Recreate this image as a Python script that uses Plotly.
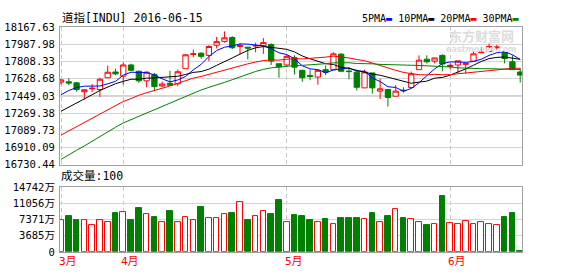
import plotly.graph_objects as go

# ---------------- data ----------------
bar_index = list(range(60))

open_ = [17593, 17596, 17586, 17493, 17523, 17516, 17639, 17699, 17656, 17772,
         17706, 17606, 17673, 17553, 17581, 17576, 17733, 17882, 17895, 17872,
         17978, 18018, 18058, 17965, 17958, 17969, 17972, 17985, 17785, 17772,
         17848, 17716, 17663, 17646, 17723, 17723, 17885, 17709, 17696, 17533,
         17689, 17499, 17516, 17446, 17509, 17536, 17723, 17832, 17812, 17872,
         17756, 17772, 17779, 17812, 17899, 17912, 17952, 17905, 17805, 17699]
high = [17626, 17633, 17593, 17519, 17573, 17639, 17766, 17733, 17798, 17785,
        17713, 17706, 17689, 17599, 17711, 17723, 17885, 17932, 17905, 17978,
        18065, 18122, 18072, 17998, 17958, 18005, 18052, 17998, 17785, 17882,
        17872, 17723, 17723, 17723, 17766, 17905, 17895, 17749, 17706, 17723,
        17689, 17629, 17516, 17563, 17539, 17703, 17872, 17872, 17845, 17882,
        17788, 17815, 17788, 17912, 17962, 17995, 17982, 17912, 17872, 17739]
low = [17566, 17559, 17493, 17413, 17489, 17439, 17639, 17666, 17566, 17706,
       17586, 17539, 17499, 17539, 17556, 17551, 17733, 17852, 17838, 17812,
       17945, 18005, 17938, 17882, 17830, 17905, 17888, 17772, 17639, 17756,
       17673, 17596, 17613, 17566, 17666, 17723, 17706, 17623, 17506, 17533,
       17473, 17416, 17339, 17446, 17483, 17526, 17723, 17788, 17788, 17706,
       17726, 17689, 17683, 17812, 17898, 17905, 17932, 17788, 17723, 17589]
close = [17616, 17583, 17516, 17513, 17529, 17623, 17696, 17679, 17772, 17716,
         17606, 17696, 17546, 17573, 17561, 17701, 17878, 17888, 17862, 17965,
         18015, 18055, 17952, 17975, 17948, 17975, 18005, 17812, 17753, 17862,
         17749, 17639, 17653, 17716, 17696, 17888, 17706, 17703, 17539, 17699,
         17533, 17523, 17433, 17499, 17503, 17679, 17822, 17805, 17845, 17782,
         17768, 17815, 17785, 17888, 17905, 17965, 17958, 17838, 17723, 17666]

volume = [7299, 8239, 7299, 7299, 5998, 7299, 6866, 8889, 9034, 7299,
          9973, 8600, 7805, 6866, 9323, 6866, 7950, 7299, 10190, 7733,
          7733, 8600, 8889, 11419, 7155, 8167, 9251, 8672, 11708, 6866,
          8456, 8239, 7155, 6866, 7372, 6432, 7588, 7588, 7588, 7516,
          8889, 6866, 8239, 9684, 7588, 7516, 6866, 6071, 6215, 12792,
          6649, 6432, 7082, 6215, 6866, 6215, 5998, 7805, 8889, 217]

ma5 = [17461, 17506, 17536, 17551, 17551, 17553, 17575, 17601, 17666, 17696,
       17694, 17694, 17667, 17627, 17596, 17615, 17652, 17721, 17778, 17859,
       17922, 17957, 17970, 17992, 17989, 17981, 17971, 17943, 17898, 17881,
       17836, 17763, 17731, 17724, 17691, 17719, 17732, 17742, 17707, 17707,
       17636, 17599, 17545, 17537, 17498, 17527, 17587, 17662, 17731, 17786,
       17804, 17803, 17799, 17808, 17832, 17872, 17900, 17911, 17878, 17830]
ma10 = [17289, 17331, 17371, 17416, 17461, 17506, 17541, 17576, 17601, 17623,
        17623, 17634, 17637, 17643, 17646, 17654, 17673, 17694, 17703, 17728,
        17768, 17804, 17845, 17885, 17924, 17951, 17964, 17956, 17945, 17935,
        17908, 17866, 17836, 17810, 17785, 17777, 17747, 17736, 17715, 17699,
        17677, 17665, 17643, 17622, 17602, 17581, 17593, 17603, 17634, 17642,
        17666, 17695, 17731, 17769, 17809, 17838, 17851, 17855, 17843, 17831]
ma20 = [17040, 17084, 17129, 17173, 17217, 17261, 17304, 17348, 17391, 17421,
        17456, 17482, 17504, 17529, 17553, 17580, 17607, 17635, 17652, 17675,
        17696, 17719, 17741, 17763, 17784, 17802, 17818, 17824, 17823, 17831,
        17838, 17835, 17840, 17847, 17854, 17864, 17855, 17845, 17829, 17816,
        17792, 17765, 17740, 17716, 17694, 17679, 17670, 17669, 17674, 17670,
        17671, 17680, 17687, 17696, 17706, 17710, 17722, 17729, 17739, 17737]
ma30 = [16787, 16837, 16882, 16927, 16977, 17027, 17077, 17122, 17167, 17202,
        17237, 17271, 17306, 17341, 17376, 17411, 17441, 17476, 17511, 17538,
        17560, 17590, 17618, 17648, 17677, 17704, 17726, 17742, 17750, 17761,
        17766, 17768, 17772, 17779, 17785, 17794, 17794, 17795, 17787, 17787,
        17784, 17778, 17774, 17772, 17770, 17769, 17767, 17764, 17764, 17759,
        17751, 17742, 17737, 17734, 17733, 17733, 17731, 17732, 17731, 17724]

price_tick_labels = ["18167.63", "17987.98", "17808.33", "17628.68", "17449.03",
                     "17269.38", "17089.73", "16910.09", "16730.44"]
vol_tick_values = [0, 3685, 7371, 11056, 14742]
vol_tick_labels = ["0", "3685万", "7371万", "11056万", "14742万"]
month_labels = ["3月", "4月", "5月", "6月"]
month_start = [0, 8, 29, 50]

ma_names = ["5PMA", "10PMA", "20PMA", "30PMA"]
ma_colors = ["#0000FF", "#000000", "#FF0000", "#008000"]

title_text = "道指[INDU] 2016-06-15"
vol_title = "成交量:100"

# ---------------- figure ----------------
W, H = 578, 276
UP, DOWN = "#FF0000", "#008000"
FONT = "DejaVu Sans Mono, Noto Sans CJK SC, monospace"

def px_x(p):
    return p / W

def px_y(p):
    return 1 - p / H

fig = go.Figure()

fig.add_trace(go.Candlestick(
    x=bar_index, open=open_, high=high, low=low, close=close,
    increasing=dict(line=dict(color=UP, width=1), fillcolor="#FFFFFF"),
    decreasing=dict(line=dict(color=DOWN, width=1), fillcolor=DOWN),
    whiskerwidth=0, xaxis="x", yaxis="y", hoverinfo="skip",
))

for name, col, vals in zip(ma_names, ma_colors, [ma5, ma10, ma20, ma30]):
    fig.add_trace(go.Scatter(x=bar_index, y=vals, mode="lines", name=name,
                             line=dict(color=col, width=1), xaxis="x", yaxis="y",
                             hoverinfo="skip"))

vol_up = [c >= o for o, c in zip(open_, close)]
fig.add_trace(go.Bar(
    x=bar_index, y=volume, width=0.72, xaxis="x2", yaxis="y2",
    marker=dict(color=["#FFFFFF" if u else DOWN for u in vol_up],
                line=dict(color=[UP if u else DOWN for u in vol_up], width=1)),
    hoverinfo="skip",
))

price_tick_values = [float(t) for t in price_tick_labels]
x_range = [-0.13, 59.23]
grid_col = "#D4D4D4"
border_col = "#A0A0A0"

common_x = dict(range=x_range, tickvals=month_start, showticklabels=False,
                showgrid=True, gridcolor="#C8C8C8", griddash="4px,3px", gridwidth=1,
                showline=True, mirror=True, linecolor=border_col, linewidth=1,
                zeroline=False, ticks="", fixedrange=True)

fig.update_layout(
    width=W, height=H, autosize=False,
    margin=dict(l=0, r=0, t=0, b=0),
    paper_bgcolor="#FFFFFF", plot_bgcolor="#FFFFFF",
    showlegend=False,
    boxgap=0.32, boxgroupgap=0,
    bargap=0,
    xaxis=dict(domain=[px_x(60), px_x(522)], anchor="y",
               rangeslider=dict(visible=False), **common_x),
    xaxis2=dict(domain=[px_x(60), px_x(522)], anchor="y2", matches="x", **common_x),
    yaxis=dict(domain=[px_y(166), px_y(22)], range=[price_tick_values[-1], price_tick_values[0]],
               tickvals=price_tick_values, ticktext=price_tick_labels,
               showgrid=True, gridcolor=grid_col, gridwidth=1,
               showline=True, mirror=True, linecolor=border_col, linewidth=1,
               zeroline=False, ticks="", ticklabelstandoff=2,
               tickfont=dict(family=FONT, size=10.5, color="#000000"), fixedrange=True),
    yaxis2=dict(domain=[px_y(257), px_y(189.3)], range=[0, vol_tick_values[-1]],
                tickvals=vol_tick_values, ticktext=vol_tick_labels,
                showgrid=True, gridcolor=grid_col, gridwidth=1,
                showline=True, mirror=True, linecolor=border_col, linewidth=1,
                zeroline=False, ticks="", ticklabelstandoff=2,
                tickfont=dict(family=FONT, size=10.5, color="#000000"), fixedrange=True),
)

# darker reference gridline in the price panel
fig.add_shape(type="line", xref="x domain", yref="y", x0=0, x1=1,
              y0=price_tick_values[4], y1=price_tick_values[4],
              line=dict(color=border_col, width=1), layer="below")

# title and legend text
fig.add_annotation(text=title_text, xref="paper", yref="paper", x=px_x(60), y=px_y(13),
                   xanchor="left", yanchor="middle", showarrow=False,
                   font=dict(family=FONT, size=11.5, color="#000000"))
legend_html = " ".join(
    f"{n}<span style='color:{c}'>▬</span>" for n, c in zip(ma_names, ma_colors))
fig.add_annotation(text=legend_html, xref="paper", yref="paper", x=px_x(521), y=px_y(13),
                   xanchor="right", yanchor="middle", showarrow=False,
                   font=dict(family=FONT, size=10, color="#000000"))
fig.add_annotation(text=vol_title, xref="paper", yref="paper", x=px_x(59), y=px_y(178),
                   xanchor="left", yanchor="middle", showarrow=False,
                   font=dict(family=FONT, size=11.5, color="#000000"))

# watermark
fig.add_annotation(text="<b>东方财富网</b>", xref="paper", yref="paper", x=px_x(481), y=px_y(31),
                   xanchor="center", yanchor="middle", showarrow=False, borderpad=0,
                   font=dict(family="Noto Sans CJK SC", size=13, color="#DCDCDC"))
fig.add_annotation(text="<b>eastmoney.com</b>", xref="paper", yref="paper", x=px_x(481), y=px_y(46),
                   xanchor="center", yanchor="middle", showarrow=False, borderpad=0,
                   font=dict(family="DejaVu Sans", size=8, color="#DCDCDC"))

# month labels under the volume panel
for lab, idx in zip(month_labels, month_start):
    fig.add_annotation(text=lab, xref="x2", yref="paper", x=idx, y=px_y(267),
                       xanchor="left", yanchor="middle", xshift=-4, showarrow=False,
                       font=dict(family=FONT, size=11, color="#FF0000"))

fig.write_html("out.html")
